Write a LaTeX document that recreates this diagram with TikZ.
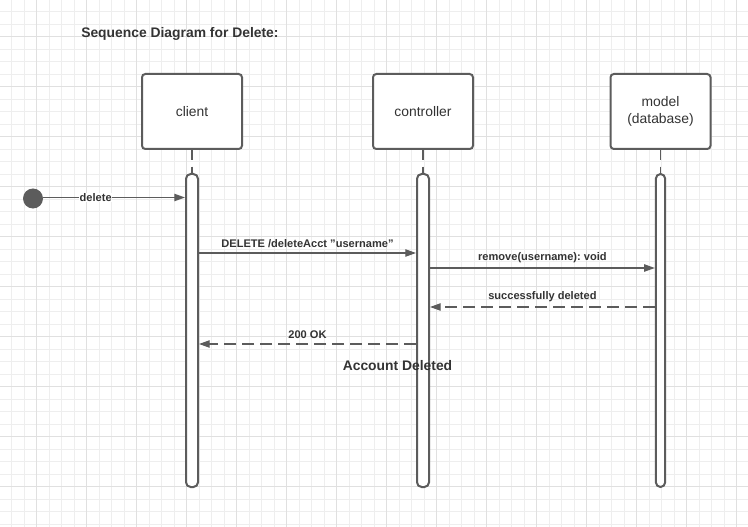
\documentclass[tikz,border=0pt]{standalone}
\usepackage{fontspec}
\setmainfont{Liberation Sans}
\frenchspacing
\usetikzlibrary{arrows.meta}
\definecolor{linegray}{RGB}{92, 92, 92}
\definecolor{textgray}{RGB}{51, 51, 51}
\definecolor{gridminor}{RGB}{238, 238, 238}
\definecolor{gridmajor}{RGB}{224, 224, 224}

\begin{document}
\begin{tikzpicture}[x=0.75pt, y=-0.75pt,
        actor/.style={draw=linegray, line width=1.5pt, fill=white, rounded corners=2.5pt,
            minimum width=75pt, minimum height=56.25pt, align=center, text=textgray,
            font=\fontsize{10.4}{12.8}\selectfont},
        bar/.style={draw=linegray, line width=1.5pt, fill=white, rounded corners=3.5pt,
            minimum width=9pt, minimum height=234.75pt, inner sep=0pt},
        life/.style={draw=linegray, line width=1.2pt, dash pattern=on 7.5pt off 5pt},
        msg/.style={draw=linegray, line width=0.9pt, -{Triangle[length=8pt, width=5.5pt]}},
        reply/.style={msg, dash pattern=on 9pt off 4.5pt},
        lbl/.style={text=textgray, font=\bfseries\fontsize{8.3}{10}\selectfont, inner sep=1pt}]
    \useasboundingbox (0,0) rectangle (748,527);
    \fill[white] (0,0) rectangle (748,527);
    % grid paper
    \foreach \i in {0,...,60} \draw[gridminor, line width=0.75pt] ({-0.8+12.5*\i},0) -- ++(0,527);
    \foreach \j in {0,...,42} \draw[gridminor, line width=0.75pt] (0,{-0.8+12.5*\j}) -- ++(748,0);
    \foreach \i in {0,...,14} \draw[gridmajor, line width=0.75pt] ({36.7+50*\i},0) -- ++(0,527);
    \foreach \j in {0,...,9}  \draw[gridmajor, line width=0.75pt] (0,{36.7+50*\j}) -- ++(748,0);

    \node[anchor=west, inner sep=0pt, text=textgray, font=\bfseries\fontsize{10.4}{12.8}\selectfont]
        (title) at (81,34) {Sequence Diagram for Delete:};

    % participants
    \node[actor] (client) at (192,111.5) {client};
    \node[actor] (ctrl)   at (423,111.5) {controller};
    \node[actor] (model)  at (660.5,111.5) {model\\(database)};

    % activation bars
    \node[bar] (clientbar) at (192,330.5) {};
    \node[bar] (ctrlbar)   at (423,330.5) {};
    \node[bar, minimum width=7pt] (modelbar) at (660.5,330.5) {};

    \draw[life] (client.south) -- (clientbar.north);
    \draw[life] (ctrl.south)   -- (ctrlbar.north);
    \draw[life] (model.south)  -- (modelbar.north);

    % start
    \node[circle, fill=linegray, minimum size=15pt, inner sep=0pt] (start) at (33,198.5) {};
    \draw[msg] (start.east |- 0,197.5) -- (clientbar.west |- 0,197.5)
        node[lbl, pos=0.37, fill=white, inner sep=0.5pt] (deletelbl) {delete};

    % messages
    \draw[msg] (clientbar.east |- 0,253) -- (ctrlbar.west |- 0,253)
        node[lbl, midway, above=2.5pt] {DELETE /deleteAcct "username"};
    \draw[msg] (ctrlbar.east |- 0,268) -- (modelbar.west |- 0,268)
        node[lbl, midway, above=2.5pt] {remove(username): void};
    \draw[reply] (modelbar.west |- 0,307) -- (ctrlbar.east |- 0,307)
        node[lbl, midway, above=2.5pt] {successfully deleted};
    \draw[reply] (ctrlbar.west |- 0,344) -- (clientbar.east |- 0,344)
        node[lbl, midway, above=2.5pt] {200 OK};

    \node[text=textgray, font=\bfseries\fontsize{10.4}{12.8}\selectfont] (done) at (397.5,366) {Account Deleted};
\end{tikzpicture}
\end{document}
